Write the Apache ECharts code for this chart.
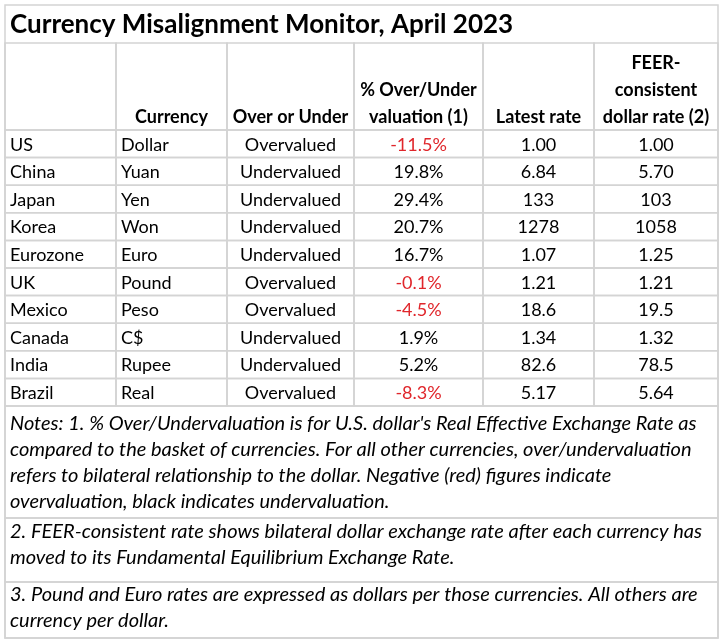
<!DOCTYPE html>
<html>
<head>
<meta charset="utf-8">
<script src="https://cdn.jsdelivr.net/npm/echarts@6/dist/echarts.min.js"></script>
<style>
  html, body { margin: 0; background: #fff; }
  #chart { width: 725px; height: 640px; }
</style>
</head>
<body>
<div id="chart"></div>
<script>
// Dados da tabela (abril 2023)
const titulo = "Currency Misalignment Monitor, April 2023";
const paises = ["US", "China", "Japan", "Korea", "Eurozone", "UK", "Mexico", "Canada", "India", "Brazil"];
const moedas = ["Dollar", "Yuan", "Yen", "Won", "Euro", "Pound", "Peso", "C$", "Rupee", "Real"];
const desalinhamento = [-11.5, 19.8, 29.4, 20.7, 16.7, -0.1, -4.5, 1.9, 5.2, -8.3];
const taxaAtual = [1.00, 6.84, 133, 1278, 1.07, 1.21, 18.6, 1.34, 82.6, 5.17];
const taxaFeer = [1.00, 5.70, 103, 1058, 1.25, 1.21, 19.5, 1.32, 78.5, 5.64];
const cabecalhos = [
  [],
  ["Currency"],
  ["Over or Under"],
  ["% Over/Under", "valuation (1)"],
  ["Latest rate"],
  ["FEER-", "consistent", "dollar rate (2)"],
];
const notas = [
  [
    "Notes: 1. % Over/Undervaluation is for U.S. dollar's Real Effective Exchange Rate as",
    "compared to the basket of currencies. For all other currencies, over/undervaluation",
    "refers to bilateral relationship to the dollar. Negative (red) figures indicate",
    "overvaluation, black indicates undervaluation.",
  ],
  [
    "2. FEER-consistent rate shows bilateral dollar exchange rate after each currency has",
    "moved to its Fundamental Equilibrium Exchange Rate.",
  ],
  [
    "3. Pound and Euro rates are expressed as dollars per those currencies. All others are",
    "currency per dollar.",
  ],
];

// layout
const FONTE = "Lato, 'Liberation Sans', sans-serif";
const LINHA = "#d4d4d4";
const VERMELHO = "#e0262b";
const BORDAS = [0, 111, 222, 349, 478, 589, 713]; // bordas das colunas, em px da tabela
const ESQ = 5, LARG = 713;

function taxa(v) {
  if (v < 10) return v.toFixed(2);
  if (v < 100) return v.toFixed(1);
  return v.toFixed(0);
}

const celulas = [];
paises.forEach((p, r) => {
  const d = desalinhamento[r];
  const textos = [p, moedas[r], d < 0 ? "Overvalued" : "Undervalued",
    d.toFixed(1) + "%", taxa(taxaAtual[r]), taxa(taxaFeer[r])];
  textos.forEach((t, c) => {
    celulas.push({ value: [c, r], texto: t, cor: c === 3 && d < 0 ? VERMELHO : "#000" });
  });
});

function desenhaCelula(params, api) {
  const c = api.value(0), r = api.value(1);
  const cel = celulas[params.dataIndex];
  const x0 = api.coord([BORDAS[c], r])[0];
  const x1 = api.coord([BORDAS[c + 1], r])[0];
  const cy = api.coord([BORDAS[c], r])[1];
  const h = api.size([0, 1])[1];
  const esquerda = c < 2;
  return {
    type: "group",
    children: [
      { type: "rect", shape: { x: x0, y: cy - h / 2, width: x1 - x0, height: h },
        style: { fill: null, stroke: LINHA, lineWidth: 1.5 } },
      { type: "text", style: {
          x: esquerda ? x0 + 5 : (x0 + x1) / 2, y: cy + 1,
          text: cel.texto, fill: cel.cor, font: `18px ${FONTE}`,
          align: esquerda ? "left" : "center", verticalAlign: "middle" } },
    ],
  };
}

function desenhaCabecalho(params, api) {
  const c = api.value(0);
  const x0 = api.coord([BORDAS[c], 0])[0];
  const x1 = api.coord([BORDAS[c + 1], 0])[0];
  const cy = api.coord([BORDAS[c], 0])[1];
  const h = api.size([0, 1])[1];
  const linhas = cabecalhos[c];
  const filhos = [
    { type: "rect", shape: { x: x0, y: cy - h / 2, width: x1 - x0, height: h },
      style: { fill: null, stroke: LINHA, lineWidth: 1.5 } },
  ];
  linhas.forEach((t, i) => {
    filhos.push({ type: "text", style: {
      x: (x0 + x1) / 2, y: cy + h / 2 - 13 - (linhas.length - 1 - i) * 27,
      text: t, fill: "#000", font: `bold 18px ${FONTE}`,
      align: "center", verticalAlign: "middle" } });
  });
  return { type: "group", children: filhos };
}

// notas como texto + caixas
const graficos = [
  { type: "rect", shape: { x: ESQ, y: 5, width: LARG, height: 633 },
    style: { fill: null, stroke: LINHA, lineWidth: 1.5 } },
  { type: "text", style: { x: 10, y: 25, text: titulo, fill: "#000",
      font: `bold 26px ${FONTE}`, verticalAlign: "middle" } },
];
const caixasNotas = [[406, 518, 18], [518, 582, 14], [582, 638, 13]];
notas.forEach((linhas, i) => {
  const [y0, y1, pad] = caixasNotas[i];
  graficos.push({ type: "rect", shape: { x: ESQ, y: y0, width: LARG, height: y1 - y0 },
    style: { fill: null, stroke: LINHA, lineWidth: 1.5 } });
  linhas.forEach((t, j) => {
    graficos.push({ type: "text", style: { x: 10, y: y0 + pad + j * 26, text: t,
      fill: "#000", font: `italic 20px ${FONTE}`, verticalAlign: "middle" } });
  });
});

const g = echarts.init(document.getElementById("chart"));
g.setOption({
  animation: false,
  grid: [
    { left: ESQ, top: 43, width: LARG, height: 87 },
    { left: ESQ, top: 130, width: LARG, height: 276 },
  ],
  xAxis: [
    { type: "value", gridIndex: 0, min: 0, max: LARG, show: false },
    { type: "value", gridIndex: 1, min: 0, max: LARG, show: false },
  ],
  yAxis: [
    { type: "category", gridIndex: 0, data: ["cab"], show: false },
    { type: "category", gridIndex: 1, data: paises, inverse: true, show: false },
  ],
  graphic: graficos,
  series: [
    { type: "custom", xAxisIndex: 0, yAxisIndex: 0, renderItem: desenhaCabecalho,
      data: cabecalhos.map((_, c) => [c, 0]) },
    { type: "custom", xAxisIndex: 1, yAxisIndex: 1, renderItem: desenhaCelula,
      data: celulas },
  ],
});
</script>
</body>
</html>
